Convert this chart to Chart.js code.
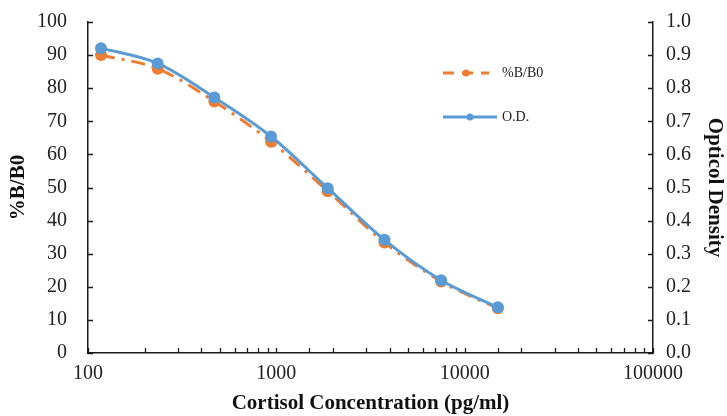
<!DOCTYPE html>
<html>
<head>
<meta charset="utf-8">
<script src="https://cdn.jsdelivr.net/npm/chart.js@4/dist/chart.umd.min.js"></script>
<style>
html,body{margin:0;padding:0;background:#fff;}
#wrap{width:727px;height:416px;position:relative;}
</style>
</head>
<body>
<div id="wrap"><canvas id="c" width="727" height="416"></canvas></div>
<script>
// ---- data ----
const concentrations = [117.1875, 234.375, 468.75, 937.5, 1875, 3750, 7500, 15000];
const percentBB0 = [90.0, 85.9, 76.0, 63.8, 48.9, 33.4, 21.6, 13.5];
const opticalDensity = [0.921, 0.875, 0.772, 0.654, 0.498, 0.342, 0.220, 0.138];
const seriesNames = ['%B/B0', 'O.D.'];
const xTickLabels = ['100', '1000', '10000', '100000'];
const xTitle = 'Cortisol Concentration (pg/ml)';
const yTitle = '%B/B0';
const y2Title = 'Opticol Density';

const ORANGE = '#ED7D31';
const BLUE = '#5B9BD5';
const SERIF = "'Liberation Serif', 'Times New Roman', serif";
const DASH = [14, 7, 3, 7];

const tickPlugin = {
  id: 'insideTicks',
  afterDraw(chart) {
    const ctx = chart.ctx;
    const {x, y, y2} = chart.scales;
    const ca = chart.chartArea;
    ctx.save();
    ctx.strokeStyle = '#1a1a1a';
    ctx.lineWidth = 1.3;
    ctx.beginPath();
    y.ticks.forEach(t => {
      const py = Math.round(y.getPixelForValue(t.value)) + 0.5;
      ctx.moveTo(ca.left, py); ctx.lineTo(ca.left + 5, py);
    });
    y2.ticks.forEach(t => {
      const py = Math.round(y2.getPixelForValue(t.value)) + 0.5;
      ctx.moveTo(ca.right, py); ctx.lineTo(ca.right - 5, py);
    });
    x.ticks.forEach(t => {
      const px = Math.round(x.getPixelForValue(t.value)) + 0.5;
      ctx.moveTo(px, ca.bottom); ctx.lineTo(px, ca.bottom - 5);
    });
    ctx.stroke();

    // legend inside the plot
    const items = [
      {ds: chart.data.datasets[0], y: 73, x0: 443, x1: 489},
      {ds: chart.data.datasets[1], y: 117, x0: 443, x1: 497}
    ];
    items.forEach(it => {
      ctx.save();
      ctx.strokeStyle = it.ds.borderColor;
      ctx.lineWidth = it.ds.borderWidth;
      if (it.ds.borderDash) ctx.setLineDash([11, 8]);
      ctx.beginPath();
      ctx.moveTo(it.x0, it.y); ctx.lineTo(it.x1, it.y);
      ctx.stroke();
      ctx.setLineDash([]);
      ctx.fillStyle = it.ds.pointBackgroundColor;
      ctx.beginPath();
      ctx.arc((it.x0 + it.x1) / 2, it.y, 3.5, 0, Math.PI * 2);
      ctx.fill();
      ctx.fillStyle = '#222';
      ctx.font = "14px " + SERIF;
      ctx.textBaseline = 'middle';
      ctx.textAlign = 'left';
      ctx.fillText(it.ds.label, 502, it.y);
      ctx.restore();
    });
    ctx.restore();
  }
};

function noPad(s) { s.paddingTop = 0; s.paddingBottom = 0; s.paddingLeft = 0; s.paddingRight = 0; }

new Chart(document.getElementById('c'), {
  type: 'line',
  data: {
    datasets: [
      {
        label: seriesNames[0],
        data: concentrations.map((c, i) => ({x: c, y: percentBB0[i]})),
        yAxisID: 'y',
        borderColor: ORANGE,
        backgroundColor: ORANGE,
        pointBackgroundColor: ORANGE,
        pointBorderColor: ORANGE,
        borderWidth: 3,
        borderDash: DASH,
        pointRadius: 6,
        pointBorderWidth: 0,
        tension: 0.4,
        cubicInterpolationMode: 'monotone',
        order: 1
      },
      {
        label: seriesNames[1],
        data: concentrations.map((c, i) => ({x: c, y: opticalDensity[i]})),
        yAxisID: 'y2',
        borderColor: BLUE,
        backgroundColor: BLUE,
        pointBackgroundColor: BLUE,
        pointBorderColor: BLUE,
        borderWidth: 3,
        pointRadius: 6,
        pointBorderWidth: 0,
        tension: 0.4,
        cubicInterpolationMode: 'monotone',
        order: 0
      }
    ]
  },
  options: {
    responsive: false,
    animation: false,
    devicePixelRatio: 1,
    layout: {padding: {top: 22, left: 0, right: 0, bottom: 0}},
    plugins: {legend: {display: false}, tooltip: {enabled: false}},
    scales: {
      x: {
        type: 'logarithmic',
        min: 100, max: 100000,
        grid: {display: false, drawTicks: false},
        border: {display: true, color: '#1a1a1a', width: 1.5},
        ticks: {
          autoSkip: false, maxRotation: 0, padding: 9,
          color: '#222', font: {family: SERIF, size: 20},
          callback: (v) => { const s = String(v); return xTickLabels.includes(s) ? s : ''; }
        },
        title: {display: true, text: xTitle, color: '#111', font: {family: SERIF, size: 21, weight: 'bold'}, padding: {top: 0, bottom: 0}},
        afterFit: (s) => { s.height = 63; noPad(s); }
      },
      y: {
        position: 'left',
        min: 0, max: 100,
        grid: {display: false, drawTicks: false},
        border: {display: true, color: '#1a1a1a', width: 1.5},
        ticks: {stepSize: 10, padding: 21, color: '#222', font: {family: SERIF, size: 20}},
        title: {display: true, text: yTitle, color: '#111', font: {family: SERIF, size: 21, weight: 'bold'}, padding: {top: 6, bottom: 0}},
        afterFit: (s) => { s.width = 88; noPad(s); }
      },
      y2: {
        position: 'right',
        min: 0, max: 1,
        grid: {display: false, drawTicks: false},
        border: {display: true, color: '#1a1a1a', width: 1.5},
        ticks: {stepSize: 0.1, padding: 13, color: '#222', font: {family: SERIF, size: 20},
          callback: (v) => Number(v).toFixed(1)},
        title: {display: true, text: y2Title, color: '#111', font: {family: SERIF, size: 21, weight: 'bold'}, padding: {top: 0, bottom: 0}},
        afterFit: (s) => { s.width = 74; noPad(s); }
      }
    }
  },
  plugins: [tickPlugin]
});
</script>
</body>
</html>
